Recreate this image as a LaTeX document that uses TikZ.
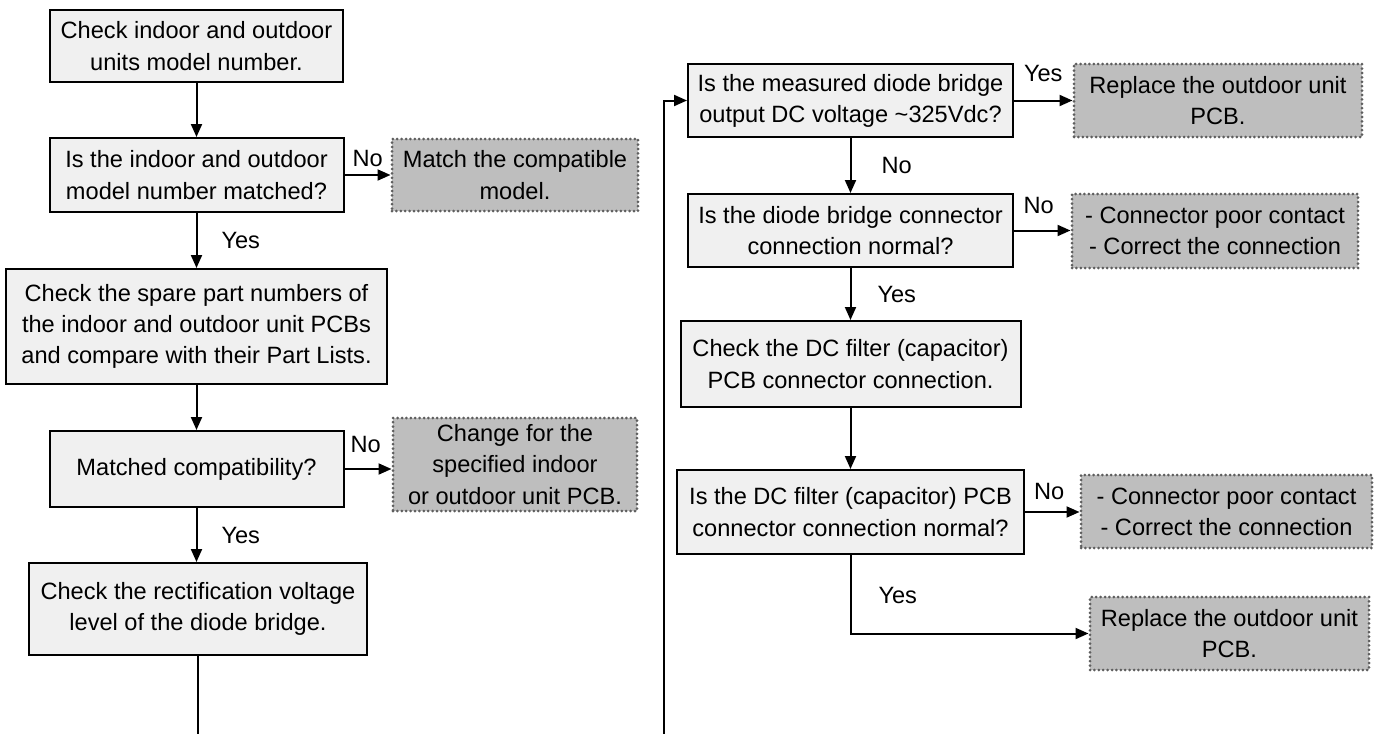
\documentclass[tikz,border=0pt]{standalone}
\usepackage{fontspec}
\setmainfont{Liberation Sans}
\usetikzlibrary{arrows.meta}
\definecolor{procfill}{HTML}{F0F0F0}
\definecolor{termfill}{HTML}{BEBEBE}
\definecolor{dotgray}{HTML}{5E5E5E}
\begin{document}
\begin{tikzpicture}[x=0.5pt,y=-0.5pt,
  every node/.style={font=\fontsize{11.8}{15.6}\selectfont},
  proc/.style={draw=black, line width=1pt, fill=procfill, align=center, inner sep=0pt},
  term/.style={draw=dotgray, line width=1.5pt, dash pattern=on 0pt off 2.2pt, line cap=round, fill=termfill, align=center, inner sep=0pt},
  conn/.style={draw, line width=1pt, -{Triangle[length=6.5pt,width=5.5pt]}},
  plain/.style={draw, line width=1pt},
  lbl/.style={inner sep=0pt}
]
\useasboundingbox (0,0) rectangle (1378,734);

% left column
\node[proc, minimum width=146.5pt, minimum height=36pt] (b1) at (196.5,46) {Check indoor and outdoor\\units model number.};
\node[proc, minimum width=147pt, minimum height=37pt] (b2) at (196.5,175) {Is the indoor and outdoor\\model number matched?};
\node[term, minimum width=123pt, minimum height=36pt] (m1) at (515,175) {Match the compatible\\model.};
\node[proc, minimum width=190.5pt, minimum height=57.5pt] (b3) at (196.5,326.5) {Check the spare part numbers of\\the indoor and outdoor unit PCBs\\and compare with their Part Lists.};
\node[proc, minimum width=147pt, minimum height=38pt] (b4) at (196.5,469) {Matched compatibility?};
\node[term, minimum width=122pt, minimum height=46.5pt] (m2) at (515,464.5) {Change for the\\specified indoor\\or outdoor unit PCB.};
\node[proc, minimum width=169pt, minimum height=46pt] (b5) at (198,609) {Check the rectification voltage\\level of the diode bridge.};
\coordinate (lend) at (198,734);

% right column
\coordinate (rstart) at (664,734);
\node[proc, minimum width=162.5pt, minimum height=36.5pt] (b6) at (850.5,100.5) {Is the measured diode bridge\\output DC voltage \textasciitilde325Vdc?};
\node[term, minimum width=144pt, minimum height=36.5pt] (r1) at (1218,100.5) {Replace the outdoor unit\\PCB.};
\node[proc, minimum width=162.5pt, minimum height=36.5pt] (b7) at (850.5,230.5) {Is the diode bridge connector\\connection normal?};
\node[term, minimum width=143pt, minimum height=37pt] (r2) at (1215,231) {- Connector poor contact\\- Correct the connection};
\node[proc, minimum width=170pt, minimum height=43pt] (b8) at (850.5,364) {Check the DC filter (capacitor)\\PCB connector connection.};
\node[proc, minimum width=173.5pt, minimum height=42pt] (b9) at (850.5,512) {Is the DC filter (capacitor) PCB\\connector connection normal?};
\node[term, minimum width=145.5pt, minimum height=36.5pt] (r3) at (1226.5,511.5) {- Connector poor contact\\- Correct the connection};
\node[term, minimum width=139.5pt, minimum height=36.5pt] (r4) at (1229.5,633.5) {Replace the outdoor unit\\PCB.};

% connectors left
\draw[conn] (b1) -- (b2);
\draw[conn] (b2) -- node[lbl, pos=0, anchor=south west, xshift=3.5pt, yshift=3.7pt] (l1) {No} (m1);
\draw[conn] (b2) -- node[lbl, midway, anchor=west, xshift=12pt] (l2) {Yes} (b3);
\draw[conn] (b3) -- (b4);
\draw[conn] (b4.east) -- node[lbl, pos=0, anchor=south west, xshift=2.5pt, yshift=7.5pt] (l3) {No} (b4.east -| m2.west);
\draw[conn] (b4.south) -- node[lbl, midway, anchor=west, xshift=12pt] (l4) {Yes} (b4.south |- b5.north);
\draw[plain] (b5.south) -- (lend);

% connectors right
\draw[conn] (rstart) |- (b6.west);
\draw[conn] (b6) -- node[lbl, pos=0, anchor=south west, xshift=4.5pt, yshift=9pt] (l5) {Yes} (r1);
\draw[conn] (b6) -- node[lbl, midway, anchor=west, xshift=15pt] (l6) {No} (b7);
\draw[conn] (b7.east) -- node[lbl, pos=0, anchor=south west, xshift=4.3pt, yshift=8pt] (l7) {No} (b7.east -| r2.west);
\draw[conn] (b7) -- node[lbl, midway, anchor=west, xshift=13pt] (l8) {Yes} (b8);
\draw[conn] (b8) -- (b9);
\draw[conn] (b9.east) -- node[lbl, pos=0, anchor=south west, xshift=4pt, yshift=5.5pt] (l9) {No} (b9.east -| r3.west);
\draw[conn] (b9.south) |- node[lbl, pos=0.26, anchor=west, xshift=13.5pt] (l10) {Yes} (r4.west);
\end{tikzpicture}
\end{document}
